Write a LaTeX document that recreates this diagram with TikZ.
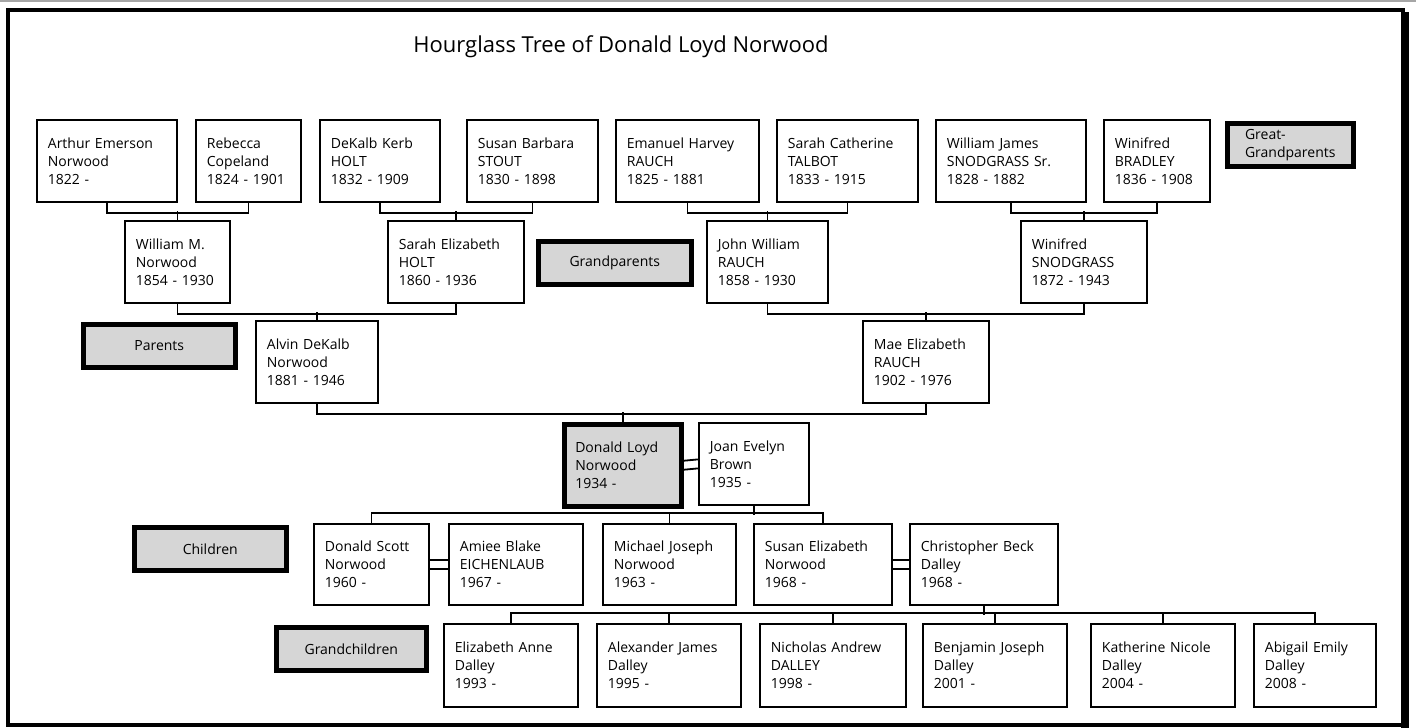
\documentclass[tikz,border=0pt]{standalone}
\usepackage{fontspec}
\setmainfont{Open Sans}
\definecolor{taggray}{gray}{0.84}
\begin{document}
\begin{tikzpicture}[x=1pt, y=-1pt,
  person/.style={draw, line width=1.8pt, anchor=north west, minimum height=82pt,
    inner xsep=11pt, inner ysep=0pt, align=left, font=\fontsize{14}{18}\selectfont},
  tag/.style={draw, line width=4.5pt, fill=taggray, anchor=north west, minimum height=43pt,
    align=left, font=\fontsize{14}{18}\selectfont},
  link/.style={line width=1.8pt}]
  \useasboundingbox (0,0) rectangle (1416,728);
  \draw[gray!70, line width=1.5pt] (0,0.75) -- (1416,0.75);
  \draw[line width=4.5pt] (8,10) rectangle (1403,725);
  \draw[line width=8pt] (1405,12) -- (1405,728); % heavier right edge

  \node[font=\fontsize{22}{26}\selectfont, anchor=base] (title) at (621,52) {Hourglass Tree of Donald Loyd Norwood};

  % great-grandparents
  \node[person, text width=118pt] (aen) at (36,119) {Arthur Emerson\\Norwood\\1822 -};
  \node[person, text width=83pt] (rc) at (195,119) {Rebecca\\Copeland\\1824 - 1901};
  \node[person, text width=98pt] (dkh) at (319,119) {DeKalb Kerb\\HOLT\\1832 - 1909};
  \node[person, text width=109pt] (sbs) at (466,119) {Susan Barbara\\STOUT\\1830 - 1898};
  \node[person, text width=121pt] (ehr) at (615,119) {Emanuel Harvey\\RAUCH\\1825 - 1881};
  \node[person, text width=119pt] (sct) at (776,119) {Sarah Catherine\\TALBOT\\1833 - 1915};
  \node[person, text width=128pt] (wjs) at (935,119) {William James\\SNODGRASS Sr.\\1828 - 1882};
  \node[person, text width=84pt] (wb) at (1103,119) {Winifred\\BRADLEY\\1836 - 1908};
  \node[tag, minimum width=126pt] (lgg) at (1225,121) {Great-\\Grandparents};

  % grandparents
  \node[person, text width=83pt] (wmn) at (124,220) {William M.\\Norwood\\1854 - 1930};
  \node[person, text width=114pt] (seh) at (387,220) {Sarah Elizabeth\\HOLT\\1860 - 1936};
  \node[person, text width=99pt] (jwr) at (706,220) {John William\\RAUCH\\1858 - 1930};
  \node[person, text width=104pt] (wsn) at (1020,220) {Winifred\\SNODGRASS\\1872 - 1943};
  \node[tag, minimum width=153pt] (lg) at (536,239) {Grandparents};

  % parents
  \node[person, text width=100pt] (adn) at (255,320) {Alvin DeKalb\\Norwood\\1881 - 1946};
  \node[person, text width=104pt] (mer) at (862,320) {Mae Elizabeth\\RAUCH\\1902 - 1976};
  \node[tag, minimum width=152pt] (lp) at (81,322) {Parents};

  \node[person, line width=4.5pt, fill=taggray, text width=95pt] (dln) at (562,422) {Donald Loyd\\Norwood\\1934 -};
  \node[person, text width=88pt] (jeb) at (698,422) {Joan Evelyn\\Brown\\1935 -};

  % children
  \node[person, minimum height=81pt, text width=93pt] (dsn) at (313,523) {Donald Scott\\Norwood\\1960 -};
  \node[person, minimum height=81pt, text width=112pt] (abe) at (448,523) {Amiee Blake\\EICHENLAUB\\1967 -};
  \node[person, minimum height=81pt, text width=111pt] (mjn) at (602,523) {Michael Joseph\\Norwood\\1963 -};
  \node[person, minimum height=81pt, text width=116pt] (sen) at (753,523) {Susan Elizabeth\\Norwood\\1968 -};
  \node[person, minimum height=81pt, text width=126pt] (cbd) at (909,523) {Christopher Beck\\Dalley\\1968 -};
  \node[tag, minimum width=152pt] (lc) at (132,525) {Children};

  % grandchildren
  \node[person, minimum height=83pt, text width=112pt] (ead) at (443,623) {Elizabeth Anne\\Dalley\\1993 -};
  \node[person, minimum height=83pt, text width=122pt] (ajd) at (596,623) {Alexander James\\Dalley\\1995 -};
  \node[person, minimum height=83pt, text width=124pt] (nad) at (759,623) {Nicholas Andrew\\DALLEY\\1998 -};
  \node[person, minimum height=83pt, text width=122pt] (bjd) at (922,623) {Benjamin Joseph\\Dalley\\2001 -};
  \node[person, minimum height=83pt, text width=122pt] (knd) at (1090,623) {Katherine Nicole\\Dalley\\2004 -};
  \node[person, minimum height=83pt, text width=100pt] (aed) at (1253,623) {Abigail Emily\\Dalley\\2008 -};
  \node[tag, minimum width=150pt] (lgc) at (274,625) {Grandchildren};

  \draw[link] (aen.south) -- ++(0,10) -| (rc.south);
  \draw[link] (wmn.north) -- ++(0,-9);
  \draw[link] (dkh.south) -- ++(0,10) -| (sbs.south);
  \draw[link] (seh.north) -- ++(0,-9);
  \draw[link] (ehr.south) -- ++(0,10) -| (sct.south);
  \draw[link] (jwr.north) -- ++(0,-9);
  \draw[link] (wjs.south) -- ++(0,10) -| (wb.south);
  \draw[link] (wsn.north) -- ++(0,-9);

  \draw[link] (wmn.south) -- ++(0,10) -| (seh.south);
  \draw[link] (adn.north) -- ++(0,-8);
  \draw[link] (jwr.south) -- ++(0,10) -| (wsn.south);
  \draw[link] (mer.north) -- ++(0,-8);

  \draw[link] (adn.south) -- ++(0,10) -| (mer.south);
  \draw[link] (dln.north) -- ++(0,-10);
  \draw[link] ([yshift=4.5pt]dln.east) -- ([yshift=4.5pt]jeb.west);
  \draw[link] ([yshift=-4.5pt]dln.east) -- ([yshift=-4.5pt]jeb.west);

  \draw[link] (jeb.south) -- ++(0,9);
  \draw[link] (dsn.north) -- ++(0,-10) -| (sen.north);
  \draw[link] (mjn.north) -- ++(0,-10);
  \draw[link] ([yshift=4.5pt]dsn.east) -- ([yshift=4.5pt]abe.west);
  \draw[link] ([yshift=-4.5pt]dsn.east) -- ([yshift=-4.5pt]abe.west);
  \draw[link] ([yshift=4.5pt]sen.east) -- ([yshift=4.5pt]cbd.west);
  \draw[link] ([yshift=-4.5pt]sen.east) -- ([yshift=-4.5pt]cbd.west);

  \draw[link] (cbd.south) -- ++(0,9);
  \draw[link] (ead.north) -- ++(0,-10) -| (aed.north);
  \foreach \n in {ajd,nad,bjd,knd}
    \draw[link] (\n.north) -- ++(0,-10);
\end{tikzpicture}
\end{document}
